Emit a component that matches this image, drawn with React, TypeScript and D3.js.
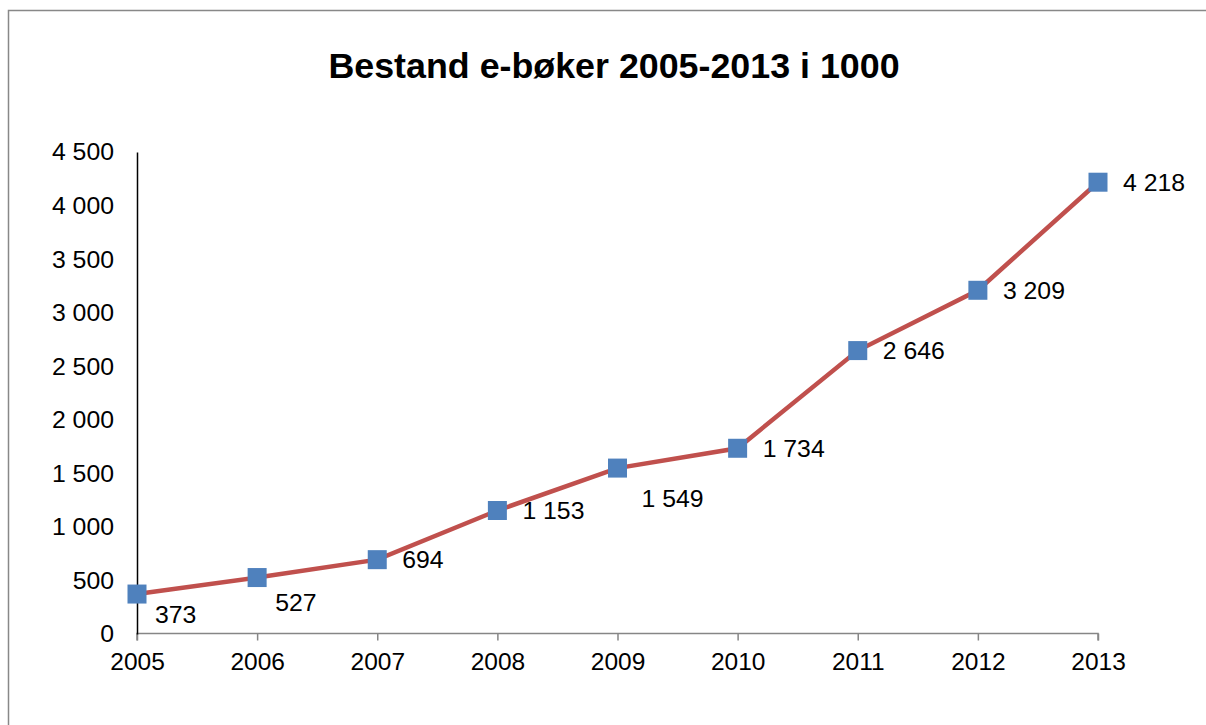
import * as d3 from "d3";
import { useEffect, useRef } from "react";

// Bestand e-bøker, i 1000
const years = ["2005", "2006", "2007", "2008", "2009", "2010", "2011", "2012", "2013"];
const stock = [373, 527, 694, 1153, 1549, 1734, 2646, 3209, 4218];
const yTicks = [0, 500, 1000, 1500, 2000, 2500, 3000, 3500, 4000, 4500];

const title = "Bestand e-bøker 2005-2013 i 1000";

export default function App() {
    const ref = useRef<SVGSVGElement>(null);

    useEffect(() => {
        const W = 1206, H = 725;
        const left = 137, right = 1098, top = 152, bottom = 634;
        const font = "Liberation Sans, Arial, sans-serif";

        const svg = d3.select(ref.current);
        svg.selectAll("*").remove();

        const no = d3.formatLocale({ decimal: ",", thousands: " ", grouping: [3], currency: ["", ""] });
        const fmt = no.format(",d");

        // outer frame
        svg.append("rect")
            .attr("x", 8.5).attr("y", 10.5)
            .attr("width", W + 20).attr("height", H + 20)
            .attr("fill", "white")
            .attr("stroke", "#888").attr("stroke-width", 1.5);

        svg.append("text")
            .attr("x", 614).attr("y", 78)
            .attr("text-anchor", "middle")
            .attr("font-family", font)
            .attr("font-weight", "bold")
            .attr("font-size", 35.8)
            .text(title);

        const x = d3.scalePoint<string>().domain(years).range([left, right]);
        const y = d3.scaleLinear().domain([0, 4500]).range([bottom, top]);

        // x axis
        const xAxis = svg.append("g")
            .attr("transform", `translate(0,${bottom - 0.5})`)
            .call(d3.axisBottom(x).tickSize(7).tickPadding(12));
        xAxis.select(".domain").attr("stroke", "#868686").attr("stroke-width", 1.5)
            .attr("d", `M${left},7V0H${right}V7`);
        xAxis.selectAll(".tick line").attr("stroke", "#868686").attr("stroke-width", 1.5);
        xAxis.selectAll(".tick text")
            .attr("font-family", font)
            .attr("font-size", 24.5).attr("fill", "#000");

        // y axis
        const yAxis = svg.append("g")
            .attr("transform", `translate(${left},0)`)
            .call(d3.axisLeft(y).tickValues(yTicks).tickSize(0).tickPadding(23).tickFormat(d => fmt(d as number)));
        yAxis.select(".domain").attr("stroke", "#000").attr("stroke-width", 1.5);
        yAxis.selectAll(".tick text")
            .attr("font-family", font)
            .attr("font-size", 24.8).attr("fill", "#000");

        const line = d3.line<number>()
            .x((_, i) => x(years[i])!)
            .y(d => y(d));

        svg.append("path")
            .datum(stock)
            .attr("d", line)
            .attr("fill", "none")
            .attr("stroke", "#C0504D")
            .attr("stroke-width", 4.5);

        const m = 19;
        svg.selectAll(".pt")
            .data(stock)
            .enter()
            .append("rect")
            .attr("class", "pt")
            .attr("x", (_, i) => x(years[i])! - m / 2)
            .attr("y", d => y(d) - m / 2)
            .attr("width", m).attr("height", m)
            .attr("fill", "#4F81BD");

        // label offsets: most sit right of the point, a few below-right
        const offsets: Record<string, [number, number]> = {
            "2005": [18, 20],
            "2006": [18, 25],
            "2009": [24, 30],
        };
        const off = (i: number) => offsets[years[i]] ?? [25, 0];

        svg.selectAll(".lbl")
            .data(stock)
            .enter()
            .append("text")
            .attr("class", "lbl")
            .attr("x", (_, i) => x(years[i])! + off(i)[0])
            .attr("y", (d, i) => y(d) + off(i)[1])
            .attr("dy", "0.35em")
            .attr("font-family", font)
            .attr("font-size", 24.8)
            .text(d => fmt(d));
    }, []);

    return (
        <svg ref={ref} width={1206} height={725}
            style={{ position: "absolute", left: 0, top: 0, display: "block" }} />
    );
}
